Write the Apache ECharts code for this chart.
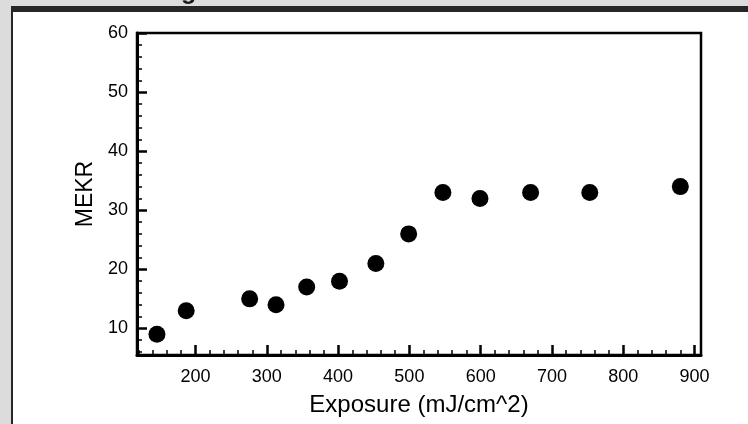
<!DOCTYPE html>
<html>
<head>
<meta charset="utf-8">
<script src="https://cdn.jsdelivr.net/npm/echarts@6/dist/echarts.min.js"></script>
<style>
html,body{margin:0;padding:0;background:#dcdcdc;}
#c{width:748px;height:424px;}
</style>
</head>
<body>
<div id="c"></div>
<script>
// Data
var exposure = [146, 187, 276, 313, 356, 402, 453, 499, 547, 599, 670, 753, 880];
var mekr     = [9,   13,  15,  14,  17,  18,  21,  26,  33,  32,  33,  33,  34];
var xMajorTicks = [200, 300, 400, 500, 600, 700, 800, 900];
var yMajorTicks = [10, 20, 30, 40, 50, 60];
var xMinorTicks = [120,140,160,180,220,240,260,280,320,340,360,380,420,440,460,480,520,540,560,580,620,640,660,680,720,740,760,780,820,840,860,880];
var yMinorTicks = [6,8,12,14,16,18,22,24,26,28,32,34,36,38,42,44,46,48,52,54,56,58];
var xName = 'Exposure (mJ/cm^2)';
var yName = 'MEKR';

var points = exposure.map(function(x, i){ return [x, mekr[i]]; });
var FONT = 'Liberation Sans';
var chart = echarts.init(document.getElementById('c'), null, {renderer:'canvas'});
var xMin = 118, xMax = 909, yMin = 5.5, yMax = 60;
chart.setOption({
  backgroundColor: '#dcdcdc',
  animation: false,
  graphic: [
    {type:'rect', shape:{x:11, y:6, width:737, height:418}, style:{fill:'#262626'}, z:-10},
    {type:'rect', shape:{x:13, y:12, width:735, height:412}, style:{fill:'#ffffff'}, z:-9},
    {type:'text', left:181, top:-20, style:{text:'g', fill:'#1a1a1a', font:'bold 25px "Liberation Sans"'}, z:-8}
  ],
  grid: {left:137, right:47, top:33, bottom:69, show:true, borderColor:'#000', borderWidth:2.5, backgroundColor:'transparent'},
  xAxis: [{
    type:'value', min:xMin, max:xMax,
    name:xName, nameLocation:'middle', nameGap:38,
    nameTextStyle:{color:'#000', fontFamily:FONT, fontSize:24},
    axisLine:{show:true, onZero:false, lineStyle:{color:'#000', width:3}},
    axisTick:{show:true, inside:true, length:10, customValues:xMajorTicks, lineStyle:{color:'#000', width:2.5}},
    axisLabel:{show:true, customValues:xMajorTicks, margin:13, color:'#000', fontFamily:FONT, fontSize:18},
    splitLine:{show:false}
  },{
    type:'value', min:xMin, max:xMax, position:'bottom',
    axisLine:{show:false},
    axisTick:{show:true, inside:true, length:5, customValues:xMinorTicks, lineStyle:{color:'#000', width:1.5}},
    axisLabel:{show:false},
    splitLine:{show:false}
  }],
  yAxis: [{
    type:'value', min:yMin, max:yMax,
    name:yName, nameLocation:'middle', nameGap:37, nameRotate:90,
    nameTextStyle:{color:'#000', fontFamily:FONT, fontSize:23},
    axisLine:{show:true, onZero:false, lineStyle:{color:'#000', width:3}},
    axisTick:{show:true, inside:true, length:10, customValues:yMajorTicks, lineStyle:{color:'#000', width:2.5}},
    axisLabel:{show:true, customValues:yMajorTicks, margin:9, color:'#000', fontFamily:FONT, fontSize:18},
    splitLine:{show:false}
  },{
    type:'value', min:yMin, max:yMax, position:'left',
    axisLine:{show:false},
    axisTick:{show:true, inside:true, length:5, customValues:yMinorTicks, lineStyle:{color:'#000', width:1.5}},
    axisLabel:{show:false},
    splitLine:{show:false}
  }],
  series: [{
    type:'scatter', xAxisIndex:0, yAxisIndex:0,
    data: points, symbol:'circle', symbolSize:17,
    itemStyle:{color:'#000', opacity:1}
  }]
});
</script>
</body>
</html>
